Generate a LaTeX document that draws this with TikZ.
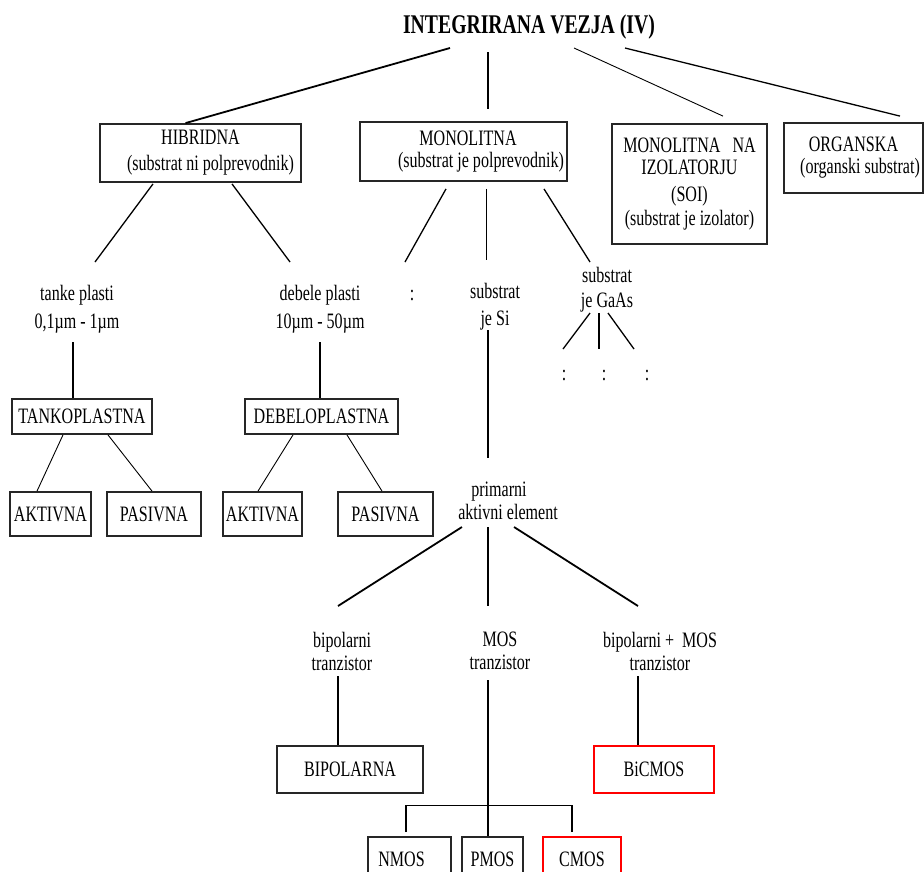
\documentclass[tikz,border=0pt]{standalone}
\usepackage{fontspec}
\setmainfont{Liberation Serif}[FakeStretch=0.73]
\tikzset{box/.style 2 args={draw=black!85, line width=1.8, inner sep=0, align=center, minimum width=#1, minimum height=#2},
 redbox/.style 2 args={box={#1}{#2}, draw=red, line width=2.6},
 lbl/.style={inner sep=0, align=center},
 link/.style={line width=1.3},
 thinlink/.style={line width=0.9},
 thicklink/.style={line width=1.8},
 }

\begin{document}
\begin{tikzpicture}[x=1pt, y=-1pt, font=\fontsize{22}{25}\selectfont]
        \useasboundingbox (0,0) rectangle (924,871);
        \clip (0,0) rectangle (924,871);
        \node[lbl, font=\fontsize{27}{30}\selectfont\bfseries] (title) at (529,27) {INTEGRIRANA VEZJA (IV)};
        \node[box={201}{58}] (hib) at (200.5,153) {HIBRIDNA\\[1pt]\hspace*{20pt}(substrat ni polprevodnik)};
        \node[box={207}{59}] (mono) at (463.5,151.5) {\hspace*{9pt}MONOLITNA\\[-3pt]\hspace*{35pt}(substrat je polprevodnik)};
        \node[box={155}{120}] (soi) at (689.5,184) {MONOLITNA\ \ \ NA\\[-3pt]IZOLATORJU\\[2pt](SOI)\\[-1pt](substrat je izolator)};
        \node[box={139}{70}] (org) at (853.5,158) {ORGANSKA\\[-3pt]\hspace*{13pt}(organski substrat)};
        \node[lbl] (tanke) at (77,309) {tanke plasti\\[3pt]0,1µm - 1µm};
        \node[lbl] (debele) at (320,309) {debele plasti\\[3pt]10µm - 50µm};
        \node[lbl] (dots1) at (412,295) {:};
        \node[lbl] (si) at (495,307) {substrat\\[2pt]je Si};
        \node[lbl] (gaas) at (607,290) {substrat\\je GaAs};
        \node[lbl] (dga1) at (564,375) {:};
        \node[lbl] (dga2) at (604,375) {:};
        \node[lbl] (dga3) at (647,375) {:};
        \node[box={140}{35}] (tank) at (82,416.5) {TANKOPLASTNA};
        \node[box={153}{35}] (debel) at (321.5,416.5) {DEBELOPLASTNA};
        \node[box={81}{44}] (akt1) at (50.5,514) {AKTIVNA};
        \node[box={94}{44}] (pas1) at (154,514) {PASIVNA};
        \node[box={79}{44}] (akt2) at (262.5,514) {AKTIVNA};
        \node[box={95}{44}] (pas2) at (385.5,514) {PASIVNA};
        \node[lbl] (prim) at (508,501) {\hspace*{-18pt}primarni\\[-2pt]aktivni element};
        \node[lbl] (bip) at (342,651) {bipolarni\\[-2pt]tranzistor};
        \node[lbl] (mos) at (500,651) {MOS\\[-2pt]tranzistor};
        \node[lbl] (bimos) at (660,651) {bipolarni +\ \ MOS\\[-2pt]tranzistor};
        \node[box={146}{47}] (bipb) at (350,769.5) {BIPOLARNA};
        \node[redbox={120}{47}] (bicm) at (654,769.5) {BiCMOS};
        \node[box={83}{44}] (nmos) at (409.5,859) {\hspace*{-16pt}NMOS};
        \node[box={61}{44}] (pmos) at (492.5,859) {PMOS};
        \node[redbox={78}{44}] (cmos) at (582,859) {CMOS};
        \draw[thicklink] ([shift={(-79,21)}]title.center) -- ([shift={(-15,0)}]hib.north);
        \draw[link] ([shift={(-41,25)}]title.center) -- ([shift={(24.5,-12)}]mono.north);
        \draw[thinlink] ([shift={(45,21)}]title.center) -- ([shift={(33.5,-7)}]soi.north);
        \draw[link] ([shift={(96,21)}]title.center) -- ([shift={(46.5,-6)}]org.north);
        \draw[link] ([shift={(-47.5,1)}]hib.south) -- ([shift={(18,-47)}]tanke.center);
        \draw[link] ([shift={(31.5,1)}]hib.south) -- ([shift={(-30,-47)}]debele.center);
        \draw[link] ([shift={(-17.5,7)}]mono.south) -- ([shift={(-7,-33)}]dots1.center);
        \draw[thinlink] ([shift={(22.5,7)}]mono.south) -- ([shift={(-9,-47)}]si.center);
        \draw[link] ([shift={(80.5,7)}]mono.south) -- ([shift={(-17,-28)}]gaas.center);
        \draw[link] ([shift={(-4,33)}]tanke.center) -- ([shift={(-9,0)}]tank.north);
        \draw[link] ([shift={(0,33)}]debele.center) -- ([shift={(-1.5,0)}]debel.north);
        \draw[thinlink] ([shift={(-19,0)}]tank.south) -- ([shift={(-13.5,0)}]akt1.north);
        \draw[thinlink] ([shift={(26,0)}]tank.south) -- ([shift={(-2,0)}]pas1.north);
        \draw[thinlink] ([shift={(-28.5,0)}]debel.south) -- ([shift={(-4.5,0)}]akt2.north);
        \draw[thinlink] ([shift={(25.5,0)}]debel.south) -- ([shift={(-3.5,0)}]pas2.north);
        \draw[link] ([shift={(-7,23)}]si.center) -- ([shift={(-20,-43)}]prim.center);
        \draw[link] ([shift={(-17,23)}]gaas.center) -- ([shift={(-1,-26)}]dga1.center);
        \draw[link] ([shift={(-8,23)}]gaas.center) -- ([shift={(-5,-26)}]dga2.center);
        \draw[link] ([shift={(1,23)}]gaas.center) -- ([shift={(-13,-26)}]dga3.center);
        \draw[thicklink] ([shift={(-46,26)}]prim.center) -- ([shift={(-4,-45)}]bip.center);
        \draw[thicklink] ([shift={(-20,26)}]prim.center) -- ([shift={(-12,-45)}]mos.center);
        \draw[thicklink] ([shift={(6,26)}]prim.center) -- ([shift={(-22,-45)}]bimos.center);
        \draw[link] ([shift={(-4,25)}]bip.center) -- ([shift={(-12,0)}]bipb.north);
        \draw[link] ([shift={(-12,29)}]mos.center) -- ([shift={(-4.5,0)}]pmos.north);
        \draw[link] ([shift={(-3.5,-4)}]nmos.north) |- ([shift={(-10,-30)}]cmos.north) -- ([shift={(-10,-4)}]cmos.north);
        \draw[link] ([shift={(-22,25)}]bimos.center) -- ([shift={(-16,0)}]bicm.north);
    \end{tikzpicture}
\end{document}
